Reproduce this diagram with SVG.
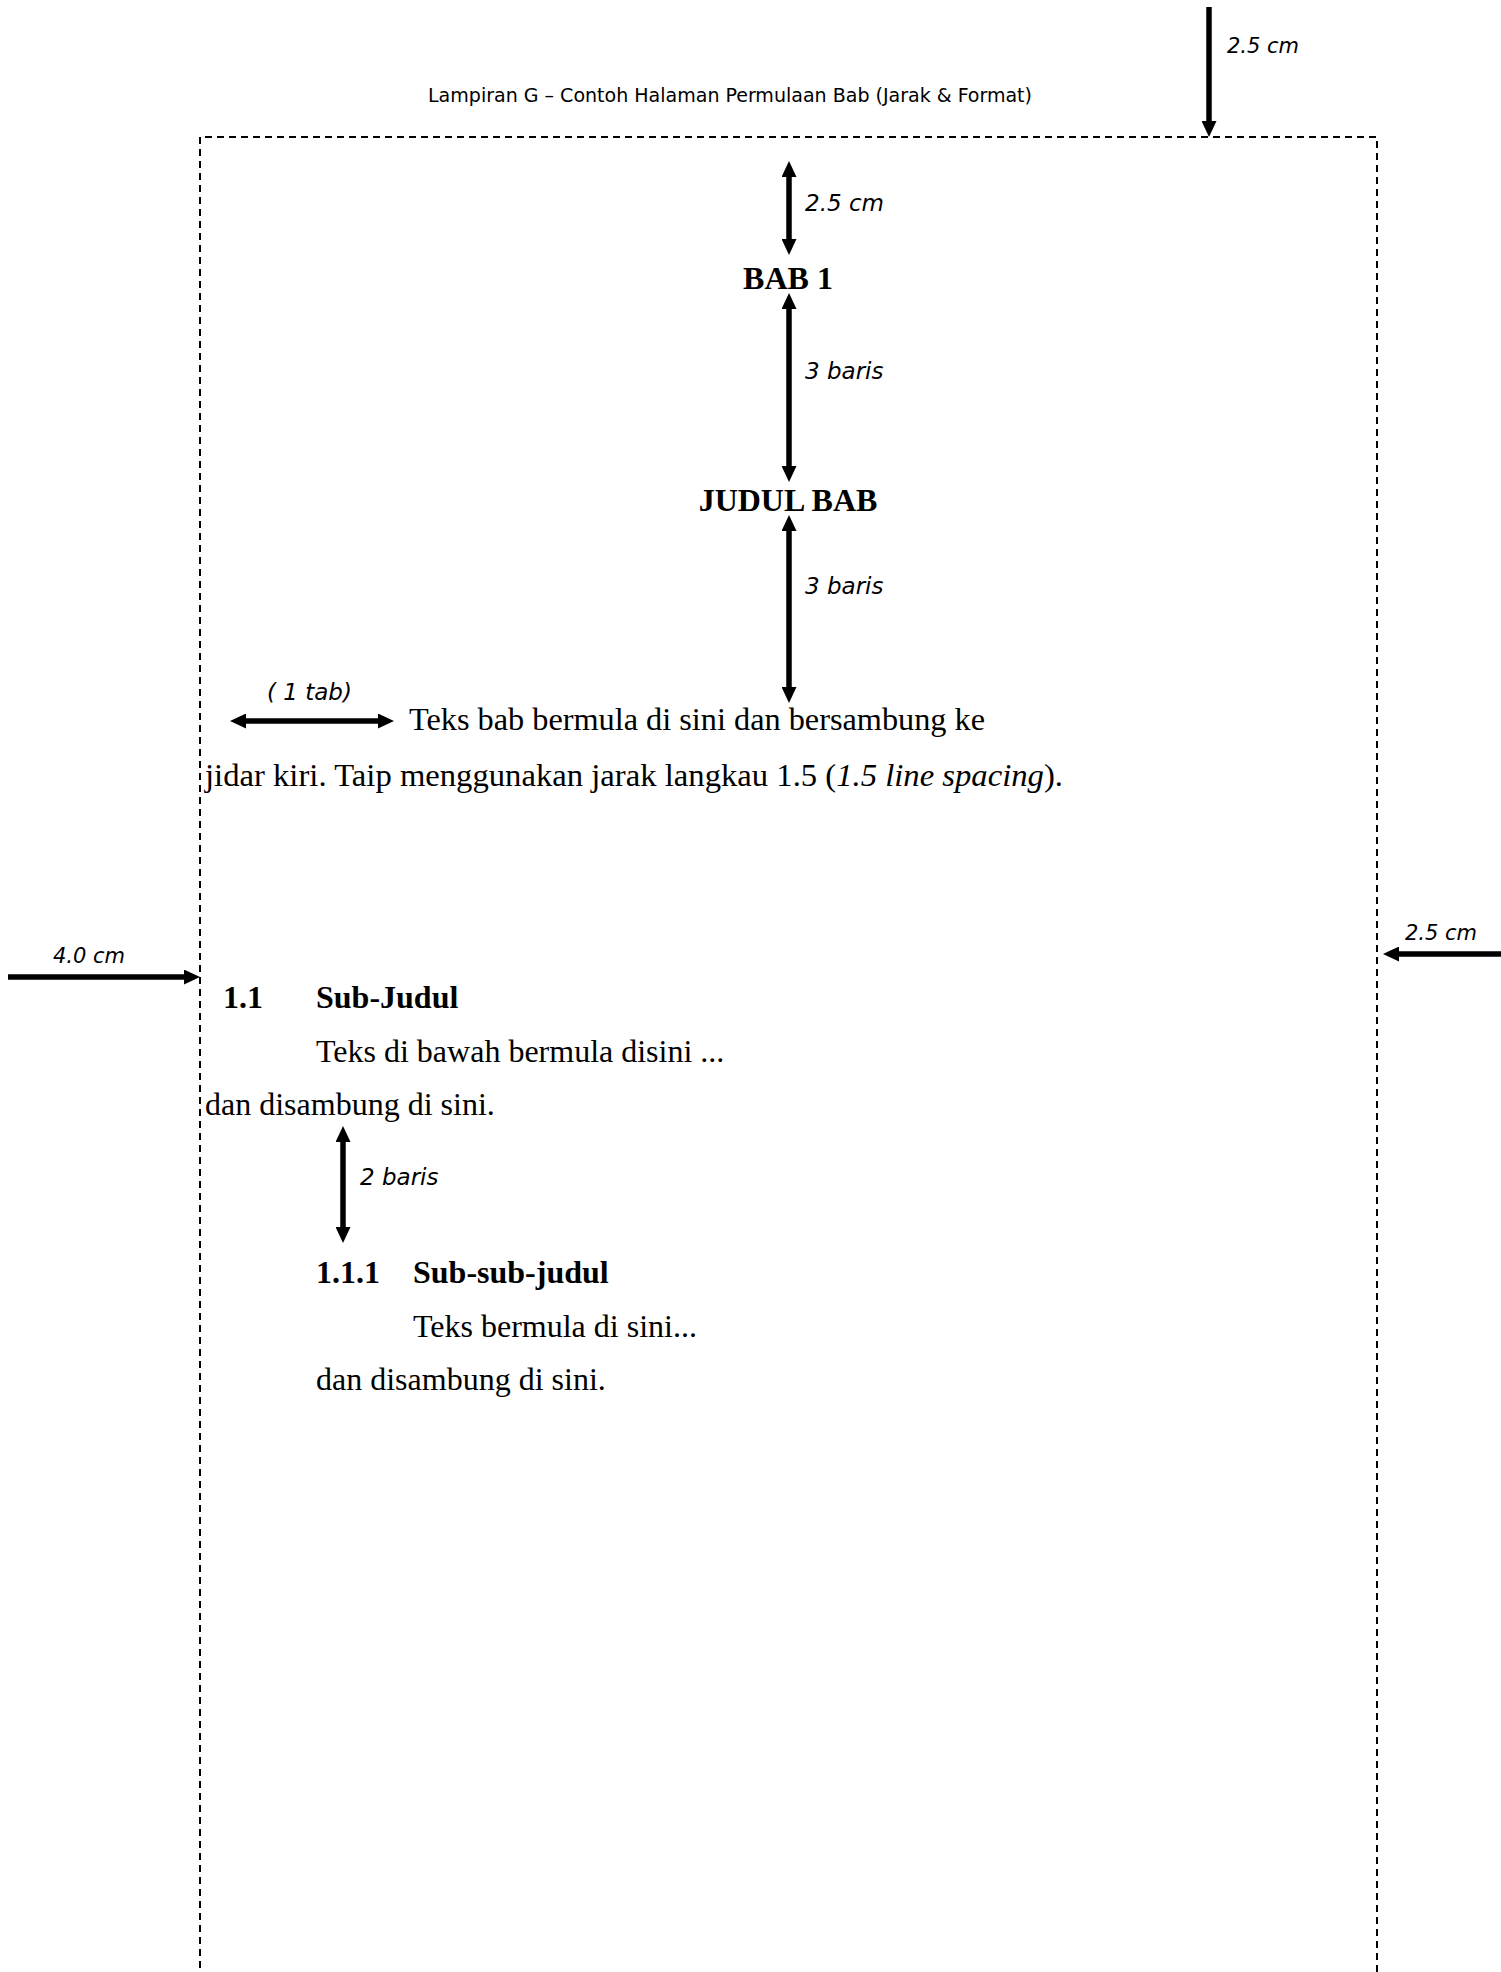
<svg xmlns="http://www.w3.org/2000/svg" width="1501" height="1972" viewBox="0 0 1501 1972">
<style>
.hdr{font-family:"DejaVu Sans Condensed","DejaVu Sans",sans-serif;font-size:20px;fill:#000}
.lbl{font-family:"DejaVu Sans","Verdana",sans-serif;font-style:italic;font-size:23px;fill:#000}
.lbl2{font-family:"DejaVu Sans","Verdana",sans-serif;font-style:italic;font-size:21px;fill:#000}
.body{font-family:"Liberation Serif","Times New Roman",serif;font-size:32px;fill:#000}
.bold{font-family:"Liberation Serif","Times New Roman",serif;font-size:32px;font-weight:bold;fill:#000}
.arr{stroke:#000;stroke-width:5.5;fill:none}
.page{stroke:#000;stroke-width:2;fill:none;stroke-dasharray:7 5}
</style>
<defs>
<marker id="ah" markerUnits="userSpaceOnUse" markerWidth="16" markerHeight="15" refX="2" refY="7.5" orient="auto-start-reverse" viewBox="0 0 16 15">
<path d="M0,0 L16,7.5 L0,15 z" fill="#000"/>
</marker>
</defs>
<rect width="1501" height="1972" fill="#fff"/>
<g id="page-border">
<path class="page" d="M200,1980 V137 H1377 V1980"/>
</g>
<g id="header"><text class="hdr" x="428" y="102" textLength="604" lengthAdjust="spacingAndGlyphs">Lampiran G – Contoh Halaman Permulaan Bab (Jarak &amp; Format)</text></g>
<g id="label-top-margin"><text class="lbl2" x="1227" y="53">2.5 cm</text></g>
<g id="label-left-margin"><text class="lbl2" x="53" y="963">4.0 cm</text></g>
<g id="label-right-margin"><text class="lbl2" x="1405" y="940">2.5 cm</text></g>
<g id="label-inner-top"><text class="lbl" x="805" y="211">2.5 cm</text></g>
<g id="bab1"><text class="bold" x="788" y="289" text-anchor="middle">BAB 1</text></g>
<g id="label-3baris-1"><text class="lbl" x="805" y="379">3 baris</text></g>
<g id="judul-bab"><text class="bold" x="788" y="511" text-anchor="middle">JUDUL BAB</text></g>
<g id="label-3baris-2"><text class="lbl" x="805" y="594">3 baris</text></g>
<g id="label-tab"><text class="lbl" x="267" y="700">( 1 tab)</text></g>
<g id="para1">
<text class="body" x="409" y="730" textLength="576" lengthAdjust="spacingAndGlyphs">Teks bab bermula di sini dan bersambung ke</text>
<text class="body" x="205" y="786" textLength="858" lengthAdjust="spacingAndGlyphs">jidar kiri. Taip menggunakan jarak langkau 1.5 (<tspan font-style="italic">1.5 line spacing</tspan>).</text>
</g>
<g id="subjudul">
<text class="bold" x="223" y="1008">1.1</text>
<text class="bold" x="316" y="1008">Sub-Judul</text>
</g>
<g id="para2">
<text class="body" x="316" y="1062">Teks di bawah bermula disini ...</text>
<text class="body" x="205" y="1115">dan disambung di sini.</text>
</g>
<g id="label-2baris"><text class="lbl" x="360" y="1185">2 baris</text></g>
<g id="subsubjudul">
<text class="bold" x="316" y="1283">1.1.1</text>
<text class="bold" x="413" y="1283">Sub-sub-judul</text>
</g>
<g id="para3">
<text class="body" x="413" y="1337">Teks bermula di sini...</text>
<text class="body" x="316" y="1390">dan disambung di sini.</text>
</g>
<g id="connectors">
<line class="arr" x1="1209" y1="7" x2="1209" y2="123" marker-end="url(#ah)"/>
<line class="arr" x1="8" y1="977" x2="186" y2="977" marker-end="url(#ah)"/>
<line class="arr" x1="1501" y1="954" x2="1397" y2="954" marker-end="url(#ah)"/>
<line class="arr" x1="789" y1="175" x2="789" y2="241" marker-start="url(#ah)" marker-end="url(#ah)"/>
<line class="arr" x1="789" y1="307" x2="789" y2="468" marker-start="url(#ah)" marker-end="url(#ah)"/>
<line class="arr" x1="789" y1="529" x2="789" y2="689" marker-start="url(#ah)" marker-end="url(#ah)"/>
<line class="arr" x1="244" y1="721" x2="380" y2="721" marker-start="url(#ah)" marker-end="url(#ah)"/>
<line class="arr" x1="343" y1="1140" x2="343" y2="1229" marker-start="url(#ah)" marker-end="url(#ah)"/>
</g>
</svg>
